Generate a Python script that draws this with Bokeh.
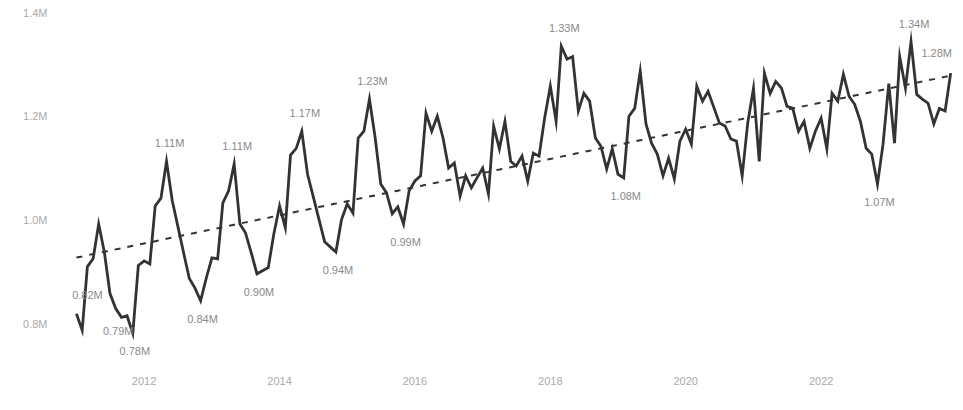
import numpy as np
import pandas as pd
from bokeh.plotting import figure
from bokeh.models import ColumnDataSource, FixedTicker, Range1d, CustomJSTickFormatter
from bokeh.core.properties import value
from bokeh.embed import file_html
from bokeh.resources import INLINE

# ---- data (monthly, millions) ----
start_month = "2011-01-01"
visitors_m = [
    0.819, 0.787, 0.910, 0.925, 0.992, 0.937, 0.858, 0.829, 0.812, 0.815, 0.781, 0.912,
    0.921, 0.915, 1.027, 1.042, 1.113, 1.037, 0.988, 0.937, 0.887, 0.869, 0.844, 0.887,
    0.927, 0.925, 1.033, 1.056, 1.108, 0.992, 0.975, 0.937, 0.896, 0.902, 0.908, 0.973,
    1.027, 0.985, 1.125, 1.138, 1.171, 1.088, 1.046, 1.002, 0.958, 0.948, 0.938, 1.000,
    1.031, 1.013, 1.158, 1.171, 1.233, 1.158, 1.069, 1.052, 1.012, 1.025, 0.992, 1.056,
    1.075, 1.085, 1.206, 1.171, 1.200, 1.158, 1.100, 1.110, 1.046, 1.085, 1.062, 1.081,
    1.100, 1.050, 1.181, 1.137, 1.190, 1.113, 1.104, 1.123, 1.075, 1.129, 1.123, 1.196,
    1.258, 1.190, 1.335, 1.310, 1.315, 1.210, 1.244, 1.229, 1.158, 1.142, 1.098, 1.137,
    1.088, 1.081, 1.200, 1.215, 1.287, 1.185, 1.148, 1.127, 1.085, 1.119, 1.079, 1.152,
    1.175, 1.146, 1.258, 1.229, 1.248, 1.217, 1.187, 1.181, 1.156, 1.152, 1.085, 1.187,
    1.254, 1.113, 1.283, 1.244, 1.267, 1.254, 1.219, 1.215, 1.171, 1.190, 1.138, 1.171,
    1.196, 1.137, 1.244, 1.229, 1.281, 1.238, 1.223, 1.190, 1.138, 1.127, 1.069, 1.146,
    1.263, 1.148, 1.315, 1.254, 1.344, 1.242, 1.233, 1.225, 1.185, 1.215, 1.210, 1.283,
]
peak_idx = [16, 28, 40, 52, 86, 148]
trough_idx = [10, 22, 32, 46, 58, 97, 142]
special_idx = [0, 1, 155]
year_ticks = [2012, 2014, 2016, 2018, 2020, 2022]
y_ticks = [0.8, 1.0, 1.2, 1.4]

dates = pd.date_range(start_month, periods=len(visitors_m), freq="MS")
vals = np.array(visitors_m)

# linear trend
t = np.arange(len(vals))
slope, intercept = np.polyfit(t, vals, 1)
trend = intercept + slope * t

p = figure(width=955, height=400, output_backend="svg", toolbar_location=None,
           x_axis_type="datetime",
           x_range=Range1d(dates[0] - pd.Timedelta(days=86), dates[-1] + pd.Timedelta(days=26)),
           y_range=Range1d(0.7192, 1.4),
           min_border_left=60, min_border_right=0, min_border_top=12, min_border_bottom=35)
p.outline_line_color = None
p.background_fill_color = "white"
p.border_fill_color = "white"
p.xgrid.visible = False
p.ygrid.visible = False

p.line(dates, trend, line_color="#333333", line_width=2, line_dash="6 7")
p.line(dates, vals, line_color="#333333", line_width=2.8, line_join="miter")

# annotations
ax, ay, at, dx, dy = [], [], [], [], []
for i in peak_idx:
    ax.append(dates[i]); ay.append(vals[i]); at.append(f"{vals[i]:.2f}M"); dx.append(3); dy.append(-18)
for i in trough_idx:
    ax.append(dates[i]); ay.append(vals[i]); at.append(f"{vals[i]:.2f}M"); dx.append(2); dy.append(18)
for i, ox, oy in zip(special_idx, [11, 36, -14], [-19, 1, -20]):
    ax.append(dates[i]); ay.append(vals[i]); at.append(f"{vals[i]:.2f}M"); dx.append(ox); dy.append(oy)
src = ColumnDataSource(dict(x=ax, y=ay, text=at, dx=dx, dy=dy))
p.text(x="x", y="y", text="text", x_offset="dx", y_offset="dy", source=src,
       text_align="center", text_baseline="middle", text_font=value("Liberation Sans"),
       text_font_size="11px", text_color="#8a8a8a")

# axes
tick_ms = [pd.Timestamp(f"{y}-01-01").value / 1e6 for y in year_ticks]
p.xaxis.ticker = FixedTicker(ticks=tick_ms)
p.xaxis.formatter = CustomJSTickFormatter(code="return new Date(tick).getUTCFullYear().toString();")
p.yaxis.ticker = FixedTicker(ticks=y_ticks)
p.yaxis.formatter = CustomJSTickFormatter(code="return tick.toFixed(1) + 'M';")
for ax_ in (p.xaxis[0], p.yaxis[0]):
    ax_.axis_line_color = None
    ax_.major_tick_line_color = None
    ax_.minor_tick_line_color = None
    ax_.major_tick_out = 0
    ax_.major_tick_in = 0
    ax_.minor_tick_out = 0
    ax_.major_label_text_color = "#aaaaaa"
    ax_.major_label_text_font = "Liberation Sans"
    ax_.major_label_text_font_size = "11px"
p.xaxis.major_label_standoff = 11
p.yaxis.major_label_standoff = 13

open("out.html", "w").write(file_html(p, INLINE))
